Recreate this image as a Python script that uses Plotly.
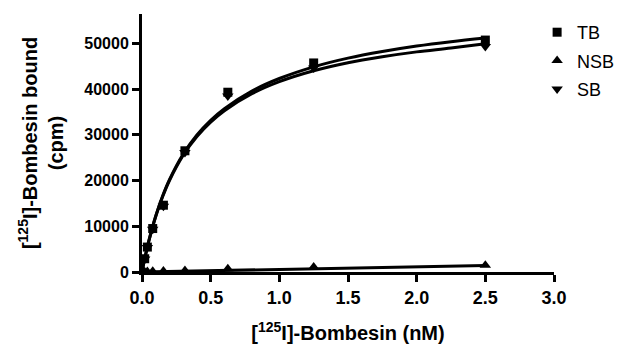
import plotly.graph_objects as go

# Data
conc = [0.0195, 0.039, 0.078, 0.156, 0.3125, 0.625, 1.25, 2.5]
tb = [2900, 5450, 9500, 14600, 26500, 39300, 45700, 50700]
nsb = [60, 90, 140, 200, 330, 700, 1100, 1450]
sb = [2850, 5350, 9350, 14400, 26150, 38500, 44600, 49300]

# Fitted curves
fit_x = [0, 0.02, 0.05, 0.1, 0.15, 0.2, 0.3, 0.4, 0.5, 0.6, 0.8, 1.0, 1.25, 1.5, 1.75, 2.0, 2.25, 2.5]
fit_tb = [0, 2950, 6850, 12250, 16600, 20200, 25800, 29950, 33150, 35700, 39550, 42300, 44850, 46750, 48200, 49400, 50350, 51150]
fit_sb = [0, 2920, 6780, 12130, 16440, 20000, 25520, 29610, 32760, 35260, 38970, 41610, 43990, 45750, 47050, 48120, 48960, 49900]
nsb_x = [0, 2.5]
nsb_fit = [0, 1400]

xticks = [0, 0.5, 1.0, 1.5, 2.0, 2.5, 3.0]
yticks = [0, 10000, 20000, 30000, 40000, 50000]

fig = go.Figure()
line_style = dict(color="black", width=3)
fig.add_trace(go.Scatter(x=fit_x, y=fit_tb, mode="lines", line=dict(**line_style, shape="spline"),
                         showlegend=False, hoverinfo="skip", cliponaxis=False))
fig.add_trace(go.Scatter(x=fit_x, y=fit_sb, mode="lines", line=dict(**line_style, shape="spline"),
                         showlegend=False, hoverinfo="skip", cliponaxis=False))
fig.add_trace(go.Scatter(x=nsb_x, y=nsb_fit, mode="lines", line=line_style,
                         showlegend=False, hoverinfo="skip", cliponaxis=False))

fig.add_trace(go.Scatter(x=conc, y=tb, mode="markers", name="TB", legendgroup="tb",
                         marker=dict(symbol="square", size=9, color="black"), cliponaxis=False))
fig.add_trace(go.Scatter(x=conc, y=nsb, mode="markers", name="NSB", legendgroup="nsb",
                         marker=dict(symbol="triangle-up", size=10, color="black"), cliponaxis=False))
fig.add_trace(go.Scatter(x=conc, y=sb, mode="markers", name="SB", legendgroup="sb",
                         marker=dict(symbol="triangle-down", size=10, color="black"), cliponaxis=False))

axis_common = dict(showline=True, linecolor="black", linewidth=3, ticks="outside",
                   ticklen=7, tickwidth=2.5, tickcolor="black", showgrid=False,
                   zeroline=False, automargin=False)

fig.update_layout(
    width=640, height=354,
    margin=dict(l=134, r=94, t=6, b=90),
    paper_bgcolor="white", plot_bgcolor="white",
    font=dict(family="Liberation Sans, Arial, sans-serif", color="black"),
    xaxis=dict(**axis_common, range=[0, 3], tickvals=xticks,
               ticktext=[f"{v:.1f}" for v in xticks],
               tickfont=dict(size=18, family="Liberation Sans, Arial", weight="bold"),
               title=dict(text="[<sup>125</sup>I]-Bombesin (nM)", standoff=20,
                          font=dict(size=20, family="Liberation Sans, Arial", weight="bold"))),
    yaxis=dict(**axis_common, range=[0, 56400], tickvals=yticks,
               ticktext=[str(v) for v in yticks],
               tickfont=dict(size=16, family="Liberation Sans, Arial", weight="bold"),
               title=dict(text="[<sup>125</sup>I]-Bombesin bound<br>(cpm)", standoff=16,
                          font=dict(size=20, family="Liberation Sans, Arial", weight="bold"))),
    legend=dict(x=0.959, y=1.0, xanchor="left", yanchor="top", bgcolor="rgba(0,0,0,0)",
                font=dict(size=18, family="Liberation Sans, Arial"),
                traceorder="grouped", tracegroupgap=2),
)

fig.write_html("out.html")
